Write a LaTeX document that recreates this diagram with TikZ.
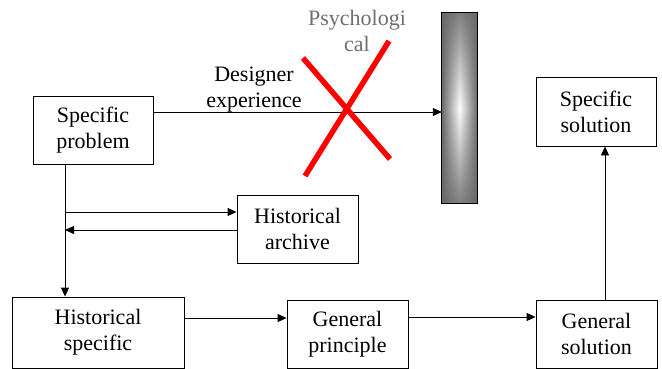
\documentclass[tikz,border=0pt]{standalone}
\usepackage{fontspec}
\newfontfamily\tnr{Liberation Serif}
\usetikzlibrary{arrows.meta,calc,fadings}
\definecolor{psy}{RGB}{110,110,110}
\definecolor{bardark}{RGB}{105,105,105}
\tikzfading[name=vfade, top color=transparent!15, bottom color=transparent!15, middle color=transparent!100]
\begin{document}
\begin{tikzpicture}[x=1pt,y=-1pt,
  box/.style={draw, line width=0.9pt, align=center, inner sep=0pt, font=\tnr\fontsize{22}{26}\selectfont},
  lbl/.style={align=center, inner sep=0pt, font=\tnr\fontsize{22}{26}\selectfont},
  arr/.style={line width=0.9pt, -{Triangle[length=9pt,width=8pt]}},
  cross/.style={red, line width=5.5pt}]
\useasboundingbox (0,0) rectangle (662,369);
% boxes
\node[box, minimum width=120, minimum height=68] (sp) at (93,130) {Specific\\problem};
\node[box, minimum width=121, minimum height=68] (ha) at (297.5,229) {Historical\\archive};
\node[box, minimum width=172, minimum height=71] (hs) at (98,332.5) {Historical\\specific};
\node[box, minimum width=121, minimum height=68] (gp) at (347.5,334) {General\\principle};
\node[box, minimum width=121, minimum height=68] (gs) at (596.5,334) {General\\solution};
\node[box, minimum width=120, minimum height=69] (ss) at (596,111.5) {Specific\\solution};
% gray bar
\node[minimum width=35, minimum height=190, inner sep=0pt] (bar) at (459.5,108) {};
\shade[left color=bardark, right color=bardark, middle color=white] (bar.north west) rectangle (bar.south east);
\fill[bardark, path fading=vfade] (bar.north west) rectangle (bar.south east);
\draw[line width=0.9pt] (bar.north west) rectangle (bar.south east);
% labels
\node[lbl] (de) at (254,90) {Designer\\experience};
\node[lbl, text=psy] (psy) at (357,31) {Psychologi\\cal};
% connectors
\draw[arr] ([yshift=18]sp.east) -- ([yshift=18]sp.east -| bar.west);
\coordinate (vtop) at ([xshift=-28]sp.south);
\draw[arr] (vtop) -- (vtop |- hs.north);
\draw[arr] (vtop |- 0,212) -- (ha.west |- 0,212);
\draw[arr] (ha.west |- 0,230) -- (vtop |- 0,230);
\draw[arr] ([yshift=14.5]hs.east) -- ([yshift=14.5]hs.east -| gp.west);
\draw[arr] ([yshift=17]gp.east) -- ([yshift=17]gp.east -| gs.west);
\draw[arr] ([xshift=8.5]gs.north) -- ([xshift=8.5]gs.north |- ss.south);
% red cross
\draw[cross] (303,58) -- (390,159);
\draw[cross] (389,41) -- (305,176);
\end{tikzpicture}
\end{document}
